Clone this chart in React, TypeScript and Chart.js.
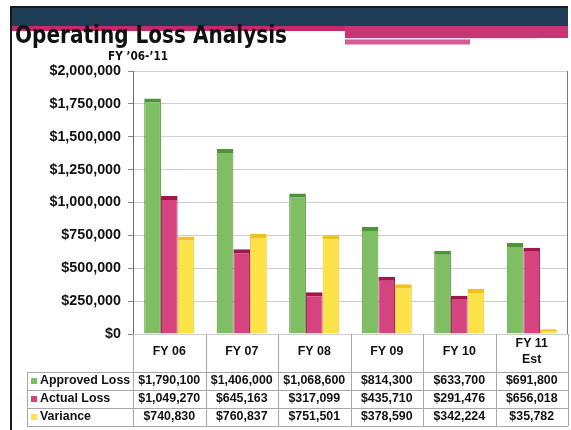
import React, { useEffect, useRef } from "react";
import { Chart, registerables } from "chart.js";

Chart.register(...registerables);

const title = "Operating Loss Analysis";
const subtitle = "FY \u201906-\u201911";
const categories: (string | string[])[] = ["FY 06", "FY 07", "FY 08", "FY 09", "FY 10", ["FY 11", "Est"]];
const seriesNames = ["Approved Loss", "Actual Loss", "Variance"];
const approvedLoss = [1790100, 1406000, 1068600, 814300, 633700, 691800];
const actualLoss = [1049270, 645163, 317099, 435710, 291476, 656018];
const variance = [740830, 760837, 751501, 378590, 342224, 35782];
const yMin = 0;
const yMax = 2000000;
const yStep = 250000;

const fillColors = ["#7fbe62", "#d5447f", "#fde24a"];
const capColors = ["#4e9537", "#a3164b", "#efc21e"];
const FONT = "'Liberation Sans', Arial, sans-serif";

const fmt = (v: number) => "$" + v.toLocaleString("en-US");

const tablePlugin = {
  id: "dataTable",
  afterDraw(chart: any) {
    const ctx = chart.ctx as CanvasRenderingContext2D;
    const area = chart.chartArea;
    const xs = chart.scales.x;
    const n = categories.length;
    const colW = (area.right - area.left) / n;
    const tableLeft = 27;
    const headerH = 38;
    const rowH = 18;
    const rows = [approvedLoss, actualLoss, variance];
    const firstRow = area.bottom + headerH;
    const lastLine = firstRow + rows.length * rowH;

    ctx.save();
    // plot right border
    ctx.strokeStyle = "#7a7a7a";
    ctx.lineWidth = 1;
    ctx.beginPath();
    ctx.moveTo(Math.round(area.right) - 0.5, area.top);
    ctx.lineTo(Math.round(area.right) - 0.5, area.bottom);
    ctx.stroke();

    // table lines
    ctx.strokeStyle = "#a8a8a8";
    ctx.beginPath();
    for (let i = 0; i <= n; i++) {
      const x = Math.round(area.left + i * colW) + 0.5;
      ctx.moveTo(x, area.bottom);
      ctx.lineTo(x, lastLine);
    }
    ctx.moveTo(tableLeft + 0.5, firstRow);
    ctx.lineTo(tableLeft + 0.5, lastLine);
    for (let r = 0; r <= rows.length; r++) {
      const y = Math.round(firstRow + r * rowH) + 0.5;
      ctx.moveTo(tableLeft, y);
      ctx.lineTo(area.right, y);
    }
    ctx.stroke();

    // header labels
    ctx.fillStyle = "#111";
    ctx.font = `bold 12.4px ${FONT}`;
    ctx.textAlign = "center";
    ctx.textBaseline = "middle";
    categories.forEach((c, i) => {
      const cx = xs.getPixelForValue(i);
      const lines = Array.isArray(c) ? c : [c];
      const midY = area.bottom + headerH / 2 - 1;
      lines.forEach((ln, k) => {
        const y = midY + (k - (lines.length - 1) / 2) * 16;
        ctx.fillText(ln, cx, y);
      });
    });

    // rows
    rows.forEach((vals, r) => {
      const cy = firstRow + r * rowH + rowH / 2;
      ctx.fillStyle = fillColors[r];
      ctx.fillRect(31, Math.round(cy - 3), 6, 6);
      ctx.fillStyle = "#111";
      ctx.textAlign = "left";
      ctx.fillText(seriesNames[r], 40, cy);
      ctx.textAlign = "center";
      vals.forEach((v, i) => {
        ctx.fillText(fmt(v), xs.getPixelForValue(i), cy);
      });
    });
    ctx.restore();
  },
};

export default function App() {
  const canvasRef = useRef<HTMLCanvasElement | null>(null);

  useEffect(() => {
    if (!canvasRef.current) return;
    const series = [approvedLoss, actualLoss, variance];
    const chart = new Chart(canvasRef.current, {
      type: "bar",
      data: {
        labels: categories.map((c) => (Array.isArray(c) ? c.join(" ") : c)),
        datasets: series.map((d, i) => ({
          label: seriesNames[i],
          data: d,
          backgroundColor: fillColors[i],
          borderColor: capColors[i],
          borderWidth: { top: 4, left: 1, right: 1, bottom: 0 },
          borderSkipped: "start",
          categoryPercentage: 0.69,
          barPercentage: 1.0,
        })),
      },
      options: {
        responsive: false,
        animation: false,
        layout: { padding: { left: 0, top: 71, right: 3, bottom: 96 } },
        plugins: {
          legend: { display: false },
          tooltip: { enabled: false },
          title: { display: false },
        },
        scales: {
          x: { display: false },
          y: {
            min: yMin,
            max: yMax,
            afterFit: (scale: any) => {
              scale.width = 133;
            },
            ticks: {
              stepSize: yStep,
              callback: (v: any) => fmt(Number(v)),
              color: "#111",
              padding: 7,
              font: { family: FONT, size: 14.3, weight: "bold" },
            },
            grid: {
              color: "#cfcfcf",
              tickLength: 5,
              tickColor: "#8a8a8a",
            },
            border: { display: true, color: "#6f6f6f", width: 1 },
          },
        },
      },
      plugins: [tablePlugin],
    } as any);
    return () => chart.destroy();
  }, []);

  return (
    <div
      style={{
        position: "fixed",
        left: 0,
        top: 0,
        width: 571,
        height: 430,
        background: "#ffffff",
        overflow: "hidden",
      }}
    >
      <canvas
        ref={canvasRef}
        width={571}
        height={430}
        style={{ position: "absolute", left: 0, top: 0, width: 571, height: 430 }}
      />
      <svg
        width={571}
        height={430}
        style={{ position: "absolute", left: 0, top: 0, pointerEvents: "none" }}
      >
        <rect x={10} y={6} width={558} height={2} fill="#1a1a1a" />
        <rect x={10} y={6} width={2} height={424} fill="#1a1a1a" />
        <rect x={12} y={8} width={556} height={18} fill="#1f3d57" />
        <rect x={12} y={26} width={556} height={5} fill="#c72a6b" />
        <rect x={345} y={26} width={223} height={12} fill="#c93474" />
        <rect x={345} y={38} width={192} height={1.5} fill="#f6dbe7" />
        <rect x={345} y={39.5} width={125} height={5} fill="#d35e95" />
        <text
          x={15}
          y={43}
          textLength={272}
          lengthAdjust="spacingAndGlyphs"
          fontFamily="'DejaVu Sans', Verdana, sans-serif"
          fontWeight="bold"
          fontSize={24}
          fill="#111"
        >
          {title}
        </text>
        <text
          x={108}
          y={60}
          textLength={60}
          lengthAdjust="spacingAndGlyphs"
          fontFamily="'DejaVu Sans', Verdana, sans-serif"
          fontWeight="bold"
          fontSize={13}
          fill="#111"
        >
          {subtitle}
        </text>
      </svg>
    </div>
  );
}
